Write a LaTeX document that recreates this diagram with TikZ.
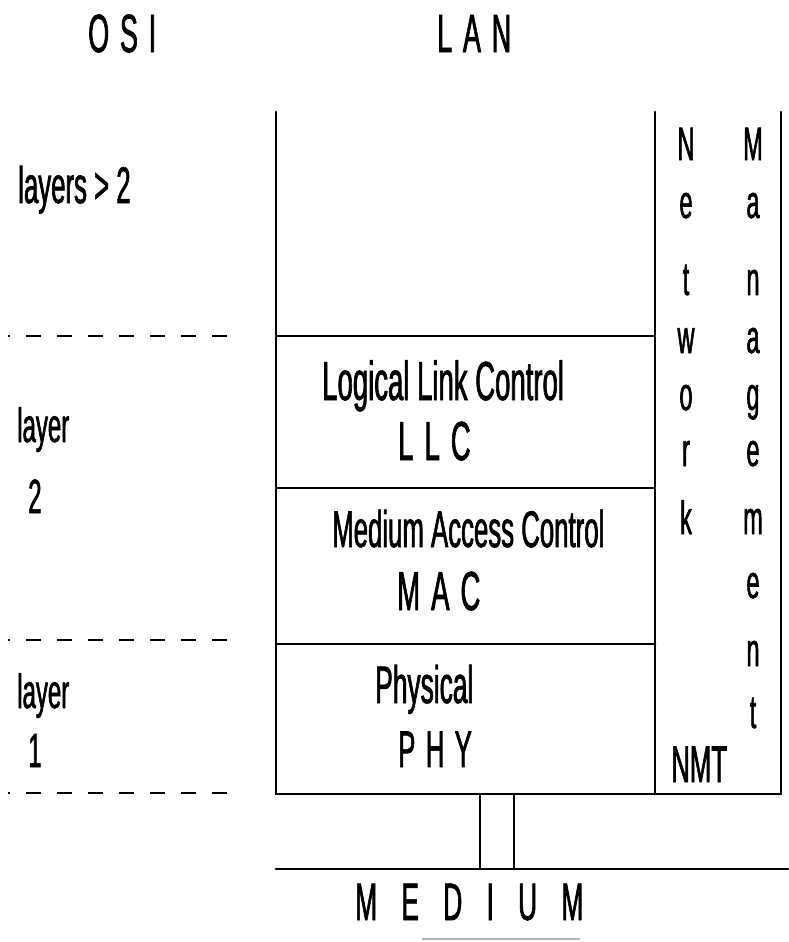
\documentclass[tikz,border=0pt]{standalone}
\usepackage{fontspec}
\setmainfont{Liberation Sans}[FakeStretch=0.5, FakeBold=1.2]
\newfontfamily\spacedfont{Liberation Sans}[FakeStretch=0.5, FakeBold=1.2, LetterSpace=20]
\newfontfamily\widefont{Liberation Sans}[FakeStretch=0.5, FakeBold=1.2, LetterSpace=46]
\usetikzlibrary{positioning}
\tikzset{
  wall/.style={line width=2.3pt, line cap=round},
  osiline/.style={line width=2pt, dash pattern=on 12.75pt off 13.75pt, dash phase=11pt},
  txt/.style={anchor=base west, inner sep=0pt, font=\fontsize{44}{48}\selectfont},
  bigtxt/.style={txt, font=\fontsize{47}{50}\selectfont},
  smalltxt/.style={txt, font=\fontsize{41}{44}\selectfont},
  colletter/.style={anchor=base, inner sep=0pt, font=\fontsize{40}{44}\selectfont},
  stackname/.style={txt, font=\spacedfont\fontsize{46}{50}\selectfont}
}

\begin{document}
\begin{tikzpicture}[x=0.3mm, y=-0.3mm]
  \fill[white] (0,0) rectangle (788,942);
  \useasboundingbox (0,0) rectangle (788,942);

  % headings
  \node[stackname] (osi) at (88,52) {OSI};
  \node[stackname] (lan) at (437,52) {LAN};

  % corners of the LAN stack
  \coordinate (topL) at (276,112);
  \coordinate (topM) at (655,112);
  \coordinate (topR) at (781,112);
  \coordinate (botL) at (276,794);
  \coordinate (botM) at (655,794);
  \coordinate (botR) at (781,794);
  \coordinate (llcL) at (276,336);
  \coordinate (llcR) at (655,336);
  \coordinate (macL) at (276,488);
  \coordinate (macR) at (655,488);
  \coordinate (phyL) at (276,644);
  \coordinate (phyR) at (655,644);

  \draw[wall] (topL) -- (botL) -- (botR) -- (topR);
  \draw[wall] (topM) -- (botM);
  \draw[wall] (llcL) -- (llcR);
  \draw[wall] (macL) -- (macR);
  \draw[wall] (phyL) -- (phyR);

  % OSI layer borders
  \coordinate (d1a) at (8,336);  \coordinate (d1b) at (232,336);
  \coordinate (d2a) at (8,640);  \coordinate (d2b) at (232,640);
  \coordinate (d3a) at (8,793);  \coordinate (d3b) at (232,793);
  \draw[osiline] (d1a) -- (d1b);
  \draw[osiline] (d2a) -- (d2b);
  \draw[osiline] (d3a) -- (d3b);

  % OSI labels
  \node[txt] (upper) at (18,203) {layers > 2};
  \node[smalltxt] (l2) at (17,442) {layer};
  \node[smalltxt] (l2n) at (28,513) {2};
  \node[smalltxt] (l1) at (17,708) {layer};
  \node[smalltxt] (l1n) at (28,767) {1};

  % sublayers
  \node[bigtxt] (llcname) at (322,400) {Logical Link Control};
  \node[stackname, font=\spacedfont\fontsize{47}{50}\selectfont] (llc) at (398,460) {LLC};
  \node[txt] (macname) at (332,547) {Medium Access Control};
  \node[stackname, font=\spacedfont\fontsize{47}{50}\selectfont] (mac) at (397,610) {MAC};
  \node[txt, font=\fontsize{45}{48}\selectfont] (phyname) at (375,703) {Physical};
  \node[stackname, font=\spacedfont\fontsize{44}{48}\selectfont] (phy) at (398,767) {PHY};

  % network management column
  \foreach \ch/\yy in {N/160, e/218, t/295, w/353, o/410, r/466, k/534}
    \node[colletter] at (686,\yy) {\ch};
  \foreach \ch/\yy in {M/160, a/218, n/295, a/353, g/410, e/466, m/534, e/598, n/666, t/728}
    \node[colletter] at (753,\yy) {\ch};
  \node[txt] (nmt) at (671,782) {NMT};

  % medium
  \coordinate (tapL) at (480,794);
  \coordinate (tapR) at (514,794);
  \coordinate (medL) at (276,869);
  \coordinate (medR) at (788,869);
  \draw[wall] (tapL) -- (tapL |- medL);
  \draw[wall] (tapR) -- (tapR |- medL);
  \draw[wall] (medL) -- (medR);
  \node[txt, font=\widefont\fontsize{45}{48}\selectfont] (medium) at (355,920) {MEDIUM};
  \coordinate (ulA) at (422,939);
  \coordinate (ulB) at (580,939);
  \draw[gray!60, line width=1.2pt] (ulA) -- (ulB);
\end{tikzpicture}
\end{document}
